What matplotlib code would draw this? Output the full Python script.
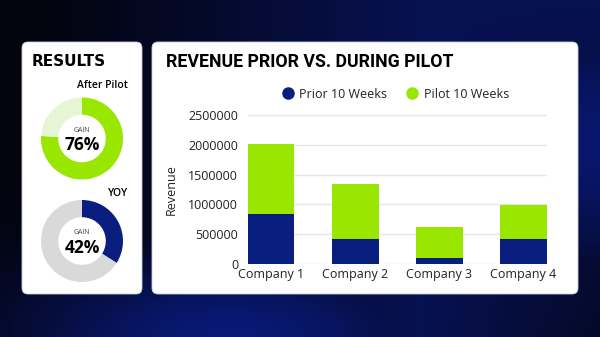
import numpy as np
import matplotlib.pyplot as plt
from matplotlib.patches import FancyBboxPatch
from matplotlib.lines import Line2D

companies = ['Company 1', 'Company 2', 'Company 3', 'Company 4']
prior = [840000, 415000, 95000, 425000]
pilot = [1180000, 925000, 520000, 565000]
series_names = ['Prior 10 Weeks', 'Pilot 10 Weeks']
yticks = [0, 500000, 1000000, 1500000, 2000000, 2500000]

after_pilot = [76, 24]
yoy = [34, 66]
after_label = '76%'
yoy_label = '42%'

NAVY = '#0a1e80'
GREEN = '#99e600'
LIGHT_GREEN = '#e6f5d3'
GRAY = '#d9d9d9'
W, H = 600, 337


def frac(x0, y0, x1, y1):
    # pixel box (top-left origin) -> figure fraction
    return [x0 / W, 1 - y1 / H, (x1 - x0) / W, (y1 - y0) / H]


fig = plt.figure(figsize=(6, 3.37), dpi=100)

# background gradient
bg = fig.add_axes([0, 0, 1, 1])
yy, xx = np.mgrid[0:H, 0:W]
t = 0.55 * np.clip((xx - 40) / 380, 0, 1) * (1 - 0.6 * np.clip((xx - 420) / 180, 0, 1) * np.clip(yy / 337, 0, 1))
t = np.maximum(t, 0.8 * np.exp(-((xx - 620) ** 2 / 200 ** 2 + (yy - 140) ** 2 / 130 ** 2)))
t = np.maximum(t, 0.85 * np.exp(-((xx - 230) ** 2 / 210 ** 2 + (yy - 335) ** 2 / 80 ** 2)))
t = np.clip(t, 0, 1)
dark = np.array([3, 4, 14]) / 255
blue = np.array([10, 28, 135]) / 255
img = dark + t[..., None] * (blue - dark)
bg.imshow(img, extent=(0, W, H, 0), aspect='auto')
bg.set_xlim(0, W)
bg.set_ylim(H, 0)
bg.axis('off')

for x0, y0, x1, y1 in [(22, 42, 142, 294), (152, 42, 578, 294)]:
    bg.add_patch(FancyBboxPatch((x0, y0), x1 - x0, y1 - y0,
                                boxstyle='round,pad=0,rounding_size=6',
                                fc='white', ec='#c8cce0', lw=0.6))

bg.text(32, 62, 'RESULTS', fontsize=11, fontweight='bold', family='DejaVu Sans',
        color='black', va='center', ha='left')
bg.text(166, 62, 'REVENUE PRIOR VS. DURING PILOT', fontsize=12.8, fontweight='bold',
        family='Roboto', color='black', va='center', ha='left')
bg.text(128, 86, 'After Pilot', fontsize=7.5, fontweight=600, family='Open Sans',
        ha='right', va='center')
bg.text(128, 194, 'YOY', fontsize=7.5, fontweight=600, family='Open Sans',
        ha='right', va='center')

# donuts
for cy, vals, cols, lab in [(138.5, after_pilot, [GREEN, LIGHT_GREEN], after_label),
                            (241, yoy, [NAVY, GRAY], yoy_label)]:
    dax = fig.add_axes(frac(41, cy - 41, 123, cy + 41))
    dax.pie(vals, colors=cols, startangle=90, counterclock=False,
            wedgeprops=dict(width=0.42, edgecolor='none'))
    dax.set_xlim(-1, 1)
    dax.set_ylim(-1, 1)
    bg.text(82, cy - 8.5, 'GAIN', fontsize=5, family='Open Sans', color='#444444',
            ha='center', va='center')
    bg.text(82, cy + 7, lab, fontsize=12.5, fontweight='bold', family='Open Sans',
            color='black', ha='center', va='center')

# stacked bars
ymax = 2550000
top = 264 - 149 * ymax / 2500000
ax = fig.add_axes(frac(247.7, top, 546.7, 264))
x = np.arange(len(companies))
bw = 0.556
ax.bar(x, prior, bw, color=NAVY, zorder=2)
ax.bar(x, pilot, bw, bottom=prior, color=GREEN, zorder=2)
ax.set_xlim(-bw / 2, len(companies) - 1 + bw / 2)
ax.set_ylim(0, ymax)
ax.set_yticks(yticks)
ax.set_yticklabels([str(v) for v in yticks])
ax.set_xticks(x)
ax.set_xticklabels(companies)
ax.grid(axis='y', color='#e6e6e6', lw=1, zorder=0)
ax.set_axisbelow(True)
for s in ax.spines.values():
    s.set_visible(False)
ax.tick_params(axis='y', length=0, pad=6.8, labelsize=9, labelcolor='#222222')
ax.tick_params(axis='x', length=0, pad=3, labelsize=9, labelcolor='#222222')
for lbl in ax.get_xticklabels() + ax.get_yticklabels():
    lbl.set_family('Open Sans')
ax.set_facecolor('none')
fig.text(171.7 / W, 1 - 190 / H, 'Revenue', rotation=90, fontsize=9, family='Open Sans',
         color='#222222', ha='center', va='center')

handles = [Line2D([], [], ls='none', marker='o', ms=8, color=c) for c in (NAVY, GREEN)]
ax.legend(handles, series_names, ncol=2, frameon=False, loc='center',
          bbox_to_anchor=(396 / W, 1 - 94 / H), bbox_transform=fig.transFigure,
          prop={'family': 'Open Sans', 'size': 9}, handlelength=0.8,
          handletextpad=0.5, columnspacing=1.6, labelcolor='#222222')

fig.savefig('out.png', dpi=100)
